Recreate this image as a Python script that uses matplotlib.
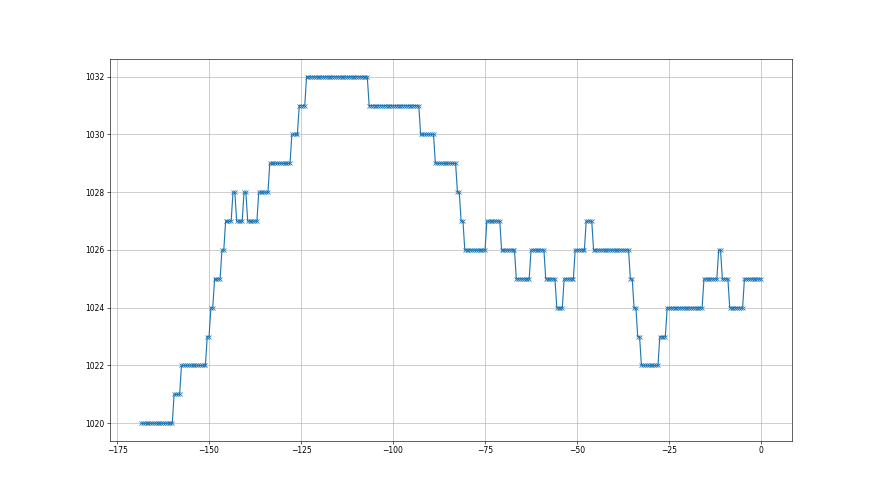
import numpy as np
import matplotlib
matplotlib.use("Agg")
import matplotlib.pyplot as plt

# hours relative to now (half-hourly readings, last one at 0)
hours = np.arange(-168.5, 0.25, 0.5)

# pressure readings [hPa]
pressure = [
    1020, 1020, 1020, 1020, 1020, 1020, 1020, 1020, 1020, 1020,
    1020, 1020, 1020, 1020, 1020, 1020, 1020, 1020,
    1021, 1021, 1021, 1021,
    1022, 1022, 1022, 1022, 1022, 1022, 1022, 1022, 1022, 1022,
    1022, 1022, 1022, 1022,
    1023, 1023,
    1024, 1024,
    1025, 1025, 1025, 1025,
    1026, 1026,
    1027, 1027, 1027, 1027,
    1028, 1028,
    1027, 1027, 1027, 1027,
    1028, 1028,
    1027, 1027, 1027, 1027, 1027, 1027,
    1028, 1028, 1028, 1028, 1028, 1028,
    1029, 1029, 1029, 1029, 1029, 1029, 1029, 1029, 1029, 1029,
    1029, 1029,
    1030, 1030, 1030, 1030,
    1031, 1031, 1031, 1031,
    1032, 1032, 1032, 1032, 1032, 1032, 1032, 1032, 1032, 1032,
    1032, 1032, 1032, 1032, 1032, 1032, 1032, 1032, 1032, 1032,
    1032, 1032, 1032, 1032, 1032, 1032, 1032, 1032, 1032, 1032,
    1032, 1032, 1032, 1032,
    1031, 1031, 1031, 1031, 1031, 1031, 1031, 1031, 1031, 1031,
    1031, 1031, 1031, 1031, 1031, 1031, 1031, 1031, 1031, 1031,
    1031, 1031, 1031, 1031, 1031, 1031, 1031, 1031,
    1030, 1030, 1030, 1030, 1030, 1030, 1030, 1030,
    1029, 1029, 1029, 1029, 1029, 1029, 1029, 1029, 1029, 1029,
    1029, 1029,
    1028, 1028,
    1027, 1027,
    1026, 1026, 1026, 1026, 1026, 1026, 1026, 1026, 1026, 1026,
    1026, 1026,
    1027, 1027, 1027, 1027, 1027, 1027, 1027, 1027,
    1026, 1026, 1026, 1026, 1026, 1026, 1026, 1026,
    1025, 1025, 1025, 1025, 1025, 1025, 1025, 1025,
    1026, 1026, 1026, 1026, 1026, 1026, 1026, 1026,
    1025, 1025, 1025, 1025, 1025, 1025,
    1024, 1024, 1024, 1024,
    1025, 1025, 1025, 1025, 1025, 1025,
    1026, 1026, 1026, 1026, 1026, 1026,
    1027, 1027, 1027, 1027,
    1026, 1026, 1026, 1026, 1026, 1026, 1026, 1026, 1026, 1026,
    1026, 1026, 1026, 1026, 1026, 1026, 1026, 1026, 1026, 1026,
    1025, 1025,
    1024, 1024,
    1023, 1023,
    1022, 1022, 1022, 1022, 1022, 1022, 1022, 1022, 1022, 1022,
    1023, 1023, 1023, 1023,
    1024, 1024, 1024, 1024, 1024, 1024, 1024, 1024, 1024, 1024,
    1024, 1024, 1024, 1024, 1024, 1024, 1024, 1024, 1024, 1024,
    1025, 1025, 1025, 1025, 1025, 1025, 1025, 1025,
    1026, 1026,
    1025, 1025, 1025, 1025,
    1024, 1024, 1024, 1024, 1024, 1024, 1024, 1024,
    1025, 1025, 1025, 1025, 1025, 1025, 1025, 1025, 1025, 1025,
]

fig = plt.figure(figsize=(16, 9), dpi=55)
plt.plot(hours, pressure, marker='x')
plt.grid()
plt.savefig('out.png')
